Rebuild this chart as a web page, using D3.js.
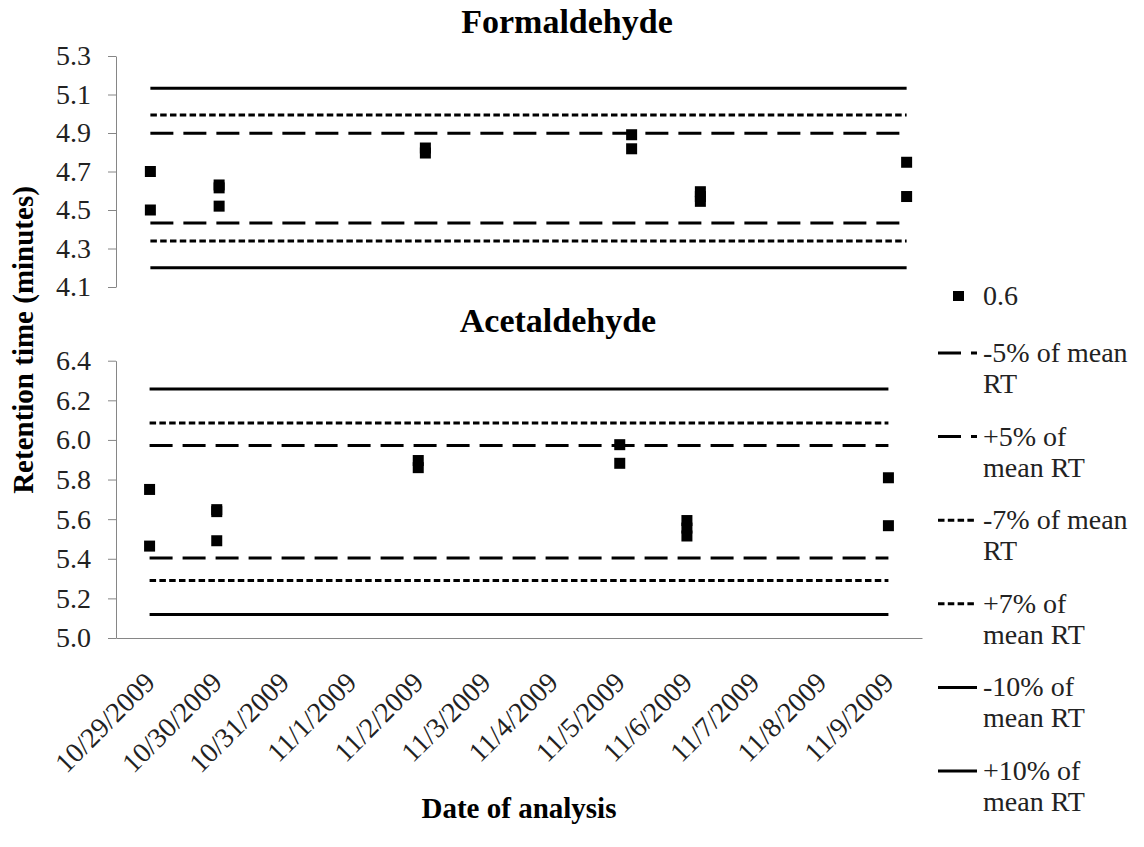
<!DOCTYPE html>
<html>
<head>
<meta charset="utf-8">
<script src="https://cdn.jsdelivr.net/npm/d3@7"></script>
<style>
  body { margin: 0; background: #fff; }
</style>
</head>
<body>
<div id="chart"></div>
<script>
// categories on the x axis
var dates = ["10/29/2009", "10/30/2009", "10/31/2009", "11/1/2009", "11/2/2009", "11/3/2009",
  "11/4/2009", "11/5/2009", "11/6/2009", "11/7/2009", "11/8/2009", "11/9/2009"];

// measured runs (0.6 series), same dates for both compounds
var runDates = ["10/29/2009", "10/29/2009", "10/30/2009", "10/30/2009", "10/30/2009",
  "11/2/2009", "11/2/2009", "11/5/2009", "11/5/2009", "11/6/2009", "11/6/2009", "11/6/2009",
  "11/9/2009", "11/9/2009"];
var formaldehydeRT = [4.70, 4.50, 4.63, 4.615, 4.52, 4.822, 4.796, 4.891, 4.818, 4.595, 4.57, 4.545, 4.748, 4.57];
var acetaldehydeRT = [5.75, 5.464, 5.648, 5.638, 5.491, 5.896, 5.86, 5.976, 5.882, 5.593, 5.555, 5.515, 5.809, 5.567];

// limit lines, in legend order
var limitNames = ["-5% of mean RT", "+5% of mean RT", "-7% of mean RT", "+7% of mean RT", "-10% of mean RT", "+10% of mean RT"];
var limitLabels = [["-5% of mean", "RT"], ["+5% of", "mean RT"], ["-7% of mean", "RT"], ["+7% of", "mean RT"], ["-10% of", "mean RT"], ["+10% of", "mean RT"]];
var formaldehydeLimits = [4.433, 4.899, 4.339, 4.993, 4.200, 5.133];
var acetaldehydeLimits = [5.404, 5.972, 5.290, 6.086, 5.119, 6.257];
var limitDash = ["23,10", "23,10", "6.5,3.3", "6.5,3.3", null, null];

// y ticks
var formaldehydeTicks = [4.1, 4.3, 4.5, 4.7, 4.9, 5.1, 5.3];
var acetaldehydeTicks = [5.0, 5.2, 5.4, 5.6, 5.8, 6.0, 6.2, 6.4];

var serif = "Liberation Serif";
var svg = d3.select("#chart").append("svg").attr("width", 1144).attr("height", 847);

var axisColor = "#868686";
var labelColor = "#222";

function panel(opts) {
  var x = d3.scaleBand().domain(dates).range(opts.xRange);
  var cx = function(d) { return x(d) + x.bandwidth() / 2; };
  var y = d3.scaleLinear().domain(opts.yDomain).range(opts.yRange);
  var g = svg.append("g");

  var yAxis = g.append("g").attr("transform", "translate(116,0)")
    .call(d3.axisLeft(y).tickValues(opts.ticks).tickFormat(d3.format(".1f"))
      .tickSize(8).tickSizeOuter(0).tickPadding(17));
  yAxis.attr("font-family", null).attr("font-size", null);
  yAxis.selectAll("path, line").attr("stroke", axisColor);
  yAxis.selectAll("text").style("font-size", "28px").style("font-family", serif).attr("fill", labelColor);

  if (opts.xAxis) {
    var xAxis = g.append("g").attr("transform", "translate(0," + opts.yRange[0] + ")")
      .call(d3.axisBottom(x).tickSize(0).tickSizeOuter(0));
    xAxis.attr("font-family", null).attr("font-size", null);
    xAxis.select("path").attr("stroke", axisColor);
    xAxis.selectAll("text")
      .style("font-size", "28px").style("font-family", serif).attr("fill", labelColor)
      .attr("text-anchor", "end").attr("dy", null).attr("y", 0)
      .attr("transform", "translate(7,46) rotate(-45)");
  }

  // limit lines, first to last date
  g.selectAll(".limit").data(opts.limits).enter().append("line")
    .attr("x1", cx(dates[0])).attr("x2", cx(dates[dates.length - 1]))
    .attr("y1", function(d) { return y(d); }).attr("y2", function(d) { return y(d); })
    .attr("stroke", "#000").attr("stroke-width", 3)
    .attr("stroke-dasharray", function(d, i) { return limitDash[i]; });

  // run markers
  g.selectAll(".pt").data(opts.values).enter().append("rect")
    .attr("x", function(d, i) { return cx(runDates[i]) - 5.5; })
    .attr("y", function(d) { return y(d) - 5.5; })
    .attr("width", 11).attr("height", 11).attr("fill", "#000");

  g.append("text").attr("x", opts.titleX).attr("y", opts.titleY)
    .attr("text-anchor", "middle").style("font-size", "34px").style("font-family", serif)
    .style("font-weight", "bold").text(opts.title);
}

panel({
  title: "Formaldehyde", titleX: 567, titleY: 33,
  xRange: [116, 941], yDomain: [4.1, 5.3], yRange: [287, 56],
  ticks: formaldehydeTicks, values: formaldehydeRT, limits: formaldehydeLimits, xAxis: false
});
panel({
  title: "Acetaldehyde", titleX: 558, titleY: 332,
  xRange: [116, 922], yDomain: [5.0, 6.4], yRange: [638, 360.7],
  ticks: acetaldehydeTicks, values: acetaldehydeRT, limits: acetaldehydeLimits, xAxis: true
});

// axis titles
svg.append("text").attr("transform", "translate(33,340) rotate(-90)")
  .attr("text-anchor", "middle").style("font-size", "29px").style("font-family", serif)
  .style("font-weight", "bold").text("Retention time (minutes)");
svg.append("text").attr("x", 519).attr("y", 818)
  .attr("text-anchor", "middle").style("font-size", "29px").style("font-family", serif)
  .style("font-weight", "bold").text("Date of analysis");

// legend
var legend = svg.append("g");
legend.append("rect").attr("x", 953).attr("y", 291).attr("width", 11).attr("height", 10).attr("fill", "#000");
legend.append("text").attr("x", 983).attr("y", 305)
  .style("font-size", "28px").style("font-family", serif).attr("fill", labelColor).text("0.6");

var item = legend.selectAll(".item").data(limitNames).enter().append("g")
  .attr("transform", function(d, i) { return "translate(0," + (353 + i * 83.6) + ")"; });
item.append("line").attr("x1", 938).attr("x2", 977).attr("y1", 0).attr("y2", 0)
  .attr("stroke", "#000").attr("stroke-width", 3)
  .attr("stroke-dasharray", function(d, i) { return limitDash[i]; });
item.selectAll("text").data(function(d, i) { return limitLabels[i]; }).enter().append("text")
  .attr("x", 983).attr("y", function(d, j) { return 9 + j * 31; })
  .style("font-size", "28px").style("font-family", serif).attr("fill", labelColor)
  .text(function(d) { return d; });
</script>
</body>
</html>
